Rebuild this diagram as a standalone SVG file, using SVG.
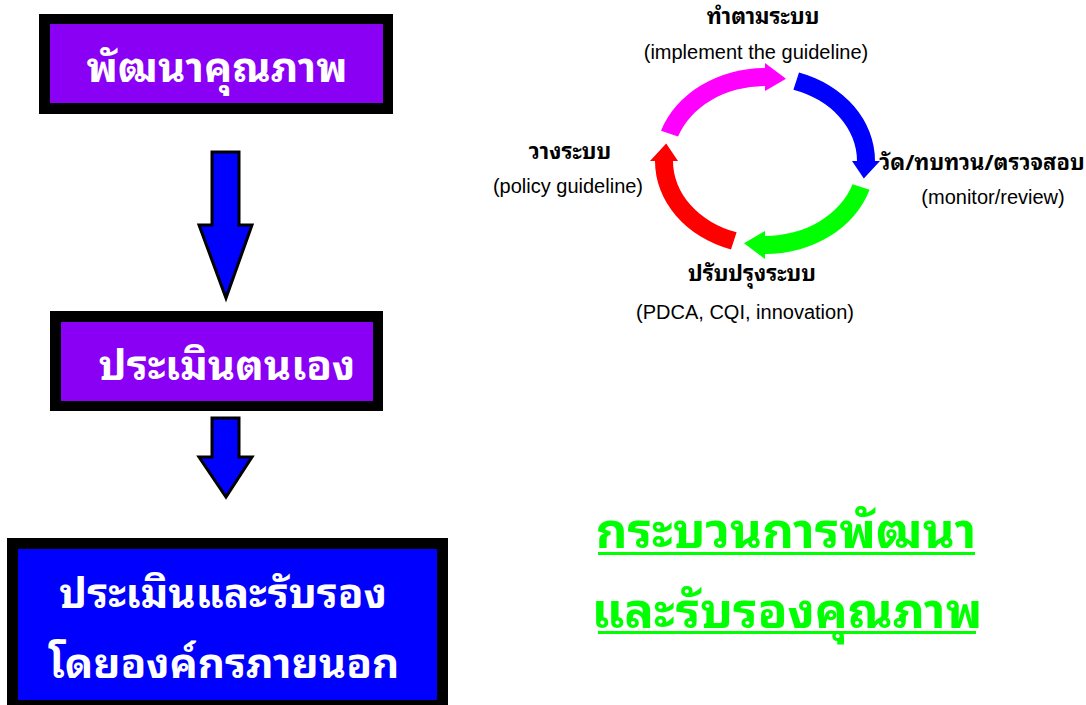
<svg xmlns="http://www.w3.org/2000/svg" width="1086" height="705" viewBox="0 0 1086 705">
<style>
.th{font-family:"Noto Sans Thai Looped","Tahoma","Loma","Garuda","Noto Sans Thai","Noto Sans","DejaVu Sans",sans-serif;font-weight:bold}
.big{font-size:42px;fill:#fff}
.lbl{font-size:22px;fill:#000}
.en{font-family:"Liberation Sans",Arial,sans-serif;font-size:20px;fill:#000}
.grn{font-size:49px;fill:#00ff00}
.dn{fill:#0000ff;stroke:#000;stroke-width:3;stroke-linejoin:miter}
</style>
<rect width="1086" height="705" fill="#fff"/>
<g id="node-develop">
<rect x="39" y="14" width="354" height="100" fill="#000"/>
<rect x="50" y="24" width="333" height="79" fill="#8a00f5"/>
<text class="th big" x="217" y="82" text-anchor="middle">พัฒนาคุณภาพ</text>
</g>
<g id="node-self">
<rect x="50" y="311" width="333" height="100" fill="#000"/>
<rect x="61" y="322" width="312" height="79" fill="#8a00f5"/>
<text class="th big" x="227" y="380" text-anchor="middle">ประเมินตนเอง</text>
</g>
<g id="node-external">
<rect x="7" y="538" width="441" height="175" fill="#000"/>
<rect x="18" y="549" width="419" height="151" fill="#0000ff"/>
<text class="th big" x="223" y="608" text-anchor="middle">ประเมินและรับรอง</text>
<text class="th big" x="224" y="678" text-anchor="middle">โดยองค์กรภายนอก</text>
</g>
<g id="connectors">
<polygon class="dn" points="212,152 239,152 239,225 252,225 226,298 199,225 212,225"/>
<polygon class="dn" points="212,418 239,418 239,457 252,457 226,497 199,457 212,457"/>
</g>
<g id="cycle">
<path fill="#ff00ff" d="M661,130.7 A110 93 0 0 1 765,68 L765,63 L786,78.8 L765,91 L765,86 A92 75 0 0 0 678,136.6 Z"/>
<path fill="#0000ff" d="M799,72.5 A110 93 0 0 1 875,161 L880,161 L863.8,178.5 L852,161 L857,161 A92 75 0 0 0 793.4,89.7 Z"/>
<path fill="#00ff00" d="M869.6,189.7 A110 93 0 0 1 765,254 L765,259 L744,243.2 L765,231 L765,236 A92 75 0 0 0 852.5,184.2 Z"/>
<path fill="#ff0000" d="M731,249.5 A110 93 0 0 1 655,161 L650,161 L666.2,143.5 L678,161 L673,161 A92 75 0 0 0 736.6,232.3 Z"/>
</g>
<g id="label-implement">
<text class="th lbl" x="763" y="24" text-anchor="middle">ทำตามระบบ</text>
<text class="en" x="756" y="59" text-anchor="middle">(implement the guideline)</text>
</g>
<g id="label-monitor">
<text class="th lbl" x="982" y="170" text-anchor="middle">วัด/ทบทวน/ตรวจสอบ</text>
<text class="en" x="993" y="204" text-anchor="middle">(monitor/review)</text>
</g>
<g id="label-policy">
<text class="th lbl" x="570" y="159" text-anchor="middle">วางระบบ</text>
<text class="en" x="568" y="193" text-anchor="middle">(policy guideline)</text>
</g>
<g id="label-improve">
<text class="th lbl" x="752" y="281" text-anchor="middle">ปรับปรุงระบบ</text>
<text class="en" x="745" y="319" text-anchor="middle">(PDCA, CQI, innovation)</text>
</g>
<g id="title">
<text class="th grn" x="786" y="548" text-anchor="middle">กระบวนการพัฒนา</text>
<rect x="598" y="552" width="377" height="3" fill="#00ff00"/>
<text class="th grn" x="787" y="628" text-anchor="middle">และรับรองคุณภาพ</text>
<rect x="598" y="631" width="378" height="3" fill="#00ff00"/>
</g>
</svg>
